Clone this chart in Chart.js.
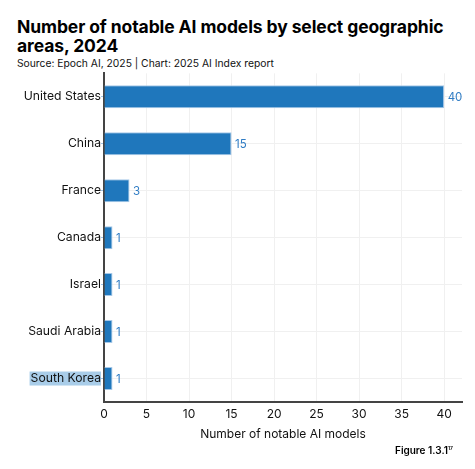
<!DOCTYPE html>
<html>
<head>
<meta charset="utf-8">
<script src="https://cdn.jsdelivr.net/npm/chart.js@4"></script>
<style>
html,body{margin:0;padding:0;background:#fff;}
body{width:475px;height:469px;position:relative;overflow:hidden;font-family:Inter,"Noto Sans",sans-serif;}
#title{position:absolute;left:17px;top:17px;font-size:17.5px;font-weight:700;line-height:19px;color:#000;letter-spacing:-0.1px;}
#sub{position:absolute;left:17px;top:57px;font-size:10.3px;color:#111;}
#fig{position:absolute;left:395px;top:444px;font-size:10px;font-weight:600;color:#000;}
#wrap{position:absolute;left:0;top:66px;width:475px;height:380px;}
</style>
</head>
<body>
<div id="title">Number of notable AI models by select geographic<br>areas, 2024</div>
<div id="sub">Source: Epoch AI, 2025 | Chart: 2025 AI Index report</div>
<div id="wrap"><canvas id="c"></canvas></div>
<div id="fig">Figure 1.3.1<sup style="font-size:5px">17</sup></div>
<script>
const categories = ["United States","China","France","Canada","Israel","Saudi Arabia","South Korea"];
const values = [40,15,3,1,1,1,1];
const xTicks = [0,5,10,15,20,25,30,35,40];
const xMax = 42.1;

const FONT = 'Inter, "Noto Sans", sans-serif';
const labelPlugin = {
  id:'vals',
  afterDatasetsDraw(chart){
    const ctx = chart.ctx;
    const meta = chart.getDatasetMeta(0);
    ctx.save();
    ctx.font = '11.5px ' + FONT;
    ctx.fillStyle = '#2f7cc4';
    ctx.textBaseline = 'middle';
    meta.data.forEach((bar,i)=>{
      ctx.fillText(String(values[i]), bar.x + 3.5, bar.y + 1);
    });
    ctx.restore();
  }
};
const highlightPlugin = {
  id:'hl',
  beforeDraw(chart){
    const y = chart.scales.y;
    const ctx = chart.ctx;
    const i = categories.indexOf("South Korea");
    const py = y.getPixelForValue(i);
    ctx.save();
    ctx.font = '12.2px ' + FONT;
    const w = ctx.measureText(categories[i]).width;
    ctx.fillStyle = '#a9cde9';
    ctx.fillRect(y.right - 3 - w - 1, py - 7, w + 1, 14);
    ctx.restore();
  }
};

new Chart(document.getElementById('c'), {
  type:'bar',
  data:{labels:categories, datasets:[{data:values, backgroundColor:'#1f77bc', borderColor:'#a6c8e8', borderWidth:1, barPercentage:0.49, categoryPercentage:1}]},
  options:{
    indexAxis:'y',
    responsive:true, maintainAspectRatio:false, animation:false,
    layout:{padding:{top:7,right:13,left:0,bottom:0}},
    plugins:{legend:{display:false},tooltip:{enabled:false}},
    scales:{
      x:{
        min:0, max:xMax,
        afterBuildTicks(s){ s.ticks = xTicks.map(v=>({value:v})); },
        afterFit(s){ s.height = 44; },
        grid:{color:'#f0f0f0', lineWidth:1, drawTicks:false},
        border:{color:'#444', width:2},
        ticks:{color:'#111', font:{size:12, family:FONT}, padding:5},
        title:{display:true, text:'Number of notable AI models', color:'#111', font:{size:12, family:FONT}, padding:{top:1}}
      },
      y:{
        afterFit(s){ s.width = 104; },
        grid:{offset:false, color:'#f0f0f0', drawTicks:true, tickLength:3, tickColor:'#9ec3e6'},
        border:{color:'#444', width:2},
        ticks:{color:'#111', font:{size:12.2, family:FONT}, padding:0}
      }
    }
  },
  plugins:[highlightPlugin,labelPlugin]
});
</script>
</body>
</html>
